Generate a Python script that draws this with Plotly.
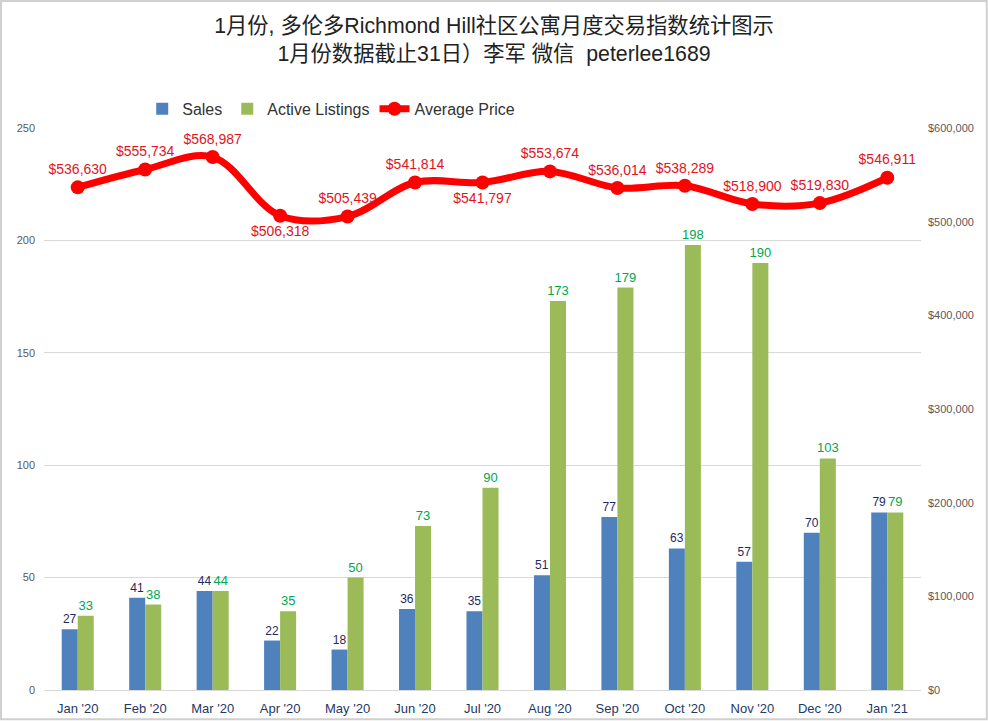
import plotly.graph_objects as go
from plotly.subplots import make_subplots

months = ["Jan '20", "Feb '20", "Mar '20", "Apr '20", "May '20", "Jun '20", "Jul '20",
          "Aug '20", "Sep '20", "Oct '20", "Nov '20", "Dec '20", "Jan '21"]
sales = [27, 41, 44, 22, 18, 36, 35, 51, 77, 63, 57, 70, 79]
listings = [33, 38, 44, 35, 50, 73, 90, 173, 179, 198, 190, 103, 79]
prices = [536630, 555734, 568987, 506318, 505439, 541814, 541797,
          553674, 536014, 538289, 518900, 519830, 546911]
# below the line only for Apr and Jul
price_spots = ["top center", "top center", "top center", "bottom center", "top center", "top center",
               "bottom center", "top center", "top center", "top center", "top center", "top center", "top center"]

TITLE = "1月份, 多伦多Richmond Hill社区公寓月度交易指数统计图示<br>1月份数据截止31日）李军 微信  peterlee1689"
FONT = "Liberation Sans, Noto Sans CJK SC"

################################################################################################
################################################################################################
################################################################################################


def make_plotly(tt, bqa, gpa, ppa):
    fig = make_subplots(specs=[[{"secondary_y": True}]])
    fig.add_trace(
        go.Bar(x=tt, y=bqa, name="Sales", marker=dict(color="#4F81BD", line_width=0), text=bqa,
               textposition="outside", constraintext="none", textfont=dict(color="#1F2A5C", size=12),
               cliponaxis=False),
        secondary_y=False,
    )
    fig.add_trace(
        go.Bar(x=tt, y=gpa, name="Active Listings", marker=dict(color="#9BBB59", line_width=0), text=gpa,
               textposition="outside", constraintext="none", textfont=dict(color="#00A651", size=13),
               cliponaxis=False),
        secondary_y=False,
    )
    fig.add_trace(
        go.Scatter(x=tt, y=ppa, mode="lines+markers+text", name="Average Price",
                   line=dict(color="#FF0000", width=7, shape="spline"),
                   marker=dict(color="#FF0000", size=14),
                   text=[f"${p:,}" for p in ppa], textposition=price_spots,
                   textfont=dict(color="#E0141E", size=14), cliponaxis=False),
        secondary_y=True,
    )
    # Edit the layout
    fig.update_layout(
        title=dict(text=TITLE, x=0.5, xanchor="center", y=0.954, yanchor="top",
                   font=dict(size=21.3, color="#222222")),
        template="plotly_white",
        width=988,
        height=721,
        margin=dict(l=44, r=67, t=128, b=31),
        font=dict(family=FONT),
        barmode="group",
        bargap=0.525,
        bargroupgap=0,
        legend=dict(orientation="h", x=0.112, y=1.034, xanchor="left", yanchor="middle",
                    font=dict(size=16, color="#333333")),
    )
    # make_subplots keeps room on the right for the second axis, take it back
    fig.update_xaxes(tickfont=dict(size=13, color="#1F3864"), showgrid=False, showline=True,
                     linecolor="#D9D9D9", ticks="", type="category", automargin=False,
                     domain=[0, 1], range=[-0.5, 12.5], ticklabelstandoff=6)
    fig.update_yaxes(range=[0, 250], dtick=50, gridcolor="#D9D9D9", zeroline=False, ticks="",
                     tickfont=dict(size=11, color="#595959"), automargin=False, ticklabelstandoff=8,
                     secondary_y=False)
    fig.update_yaxes(range=[0, 600000], dtick=100000, tickformat="$,.0f", showgrid=False, zeroline=False,
                     tickfont=dict(size=11, color="#595959"), automargin=False, ticklabelstandoff=6,
                     secondary_y=True)
    fig.add_shape(type="rect", xref="paper", yref="paper", x0=-0.049, x1=1.075, y0=-0.052, y1=1.226,
                  line=dict(color="#D0D0D0", width=2), fillcolor="rgba(0,0,0,0)")
    fig.write_html("out.html", config=dict(displayModeBar=False), post_script="document.body.style.margin = '0';")


################################################################################################
################################################################################################
################################################################################################


def main():
    make_plotly(months, sales, listings, prices)


if __name__ == "__main__":
    main()
